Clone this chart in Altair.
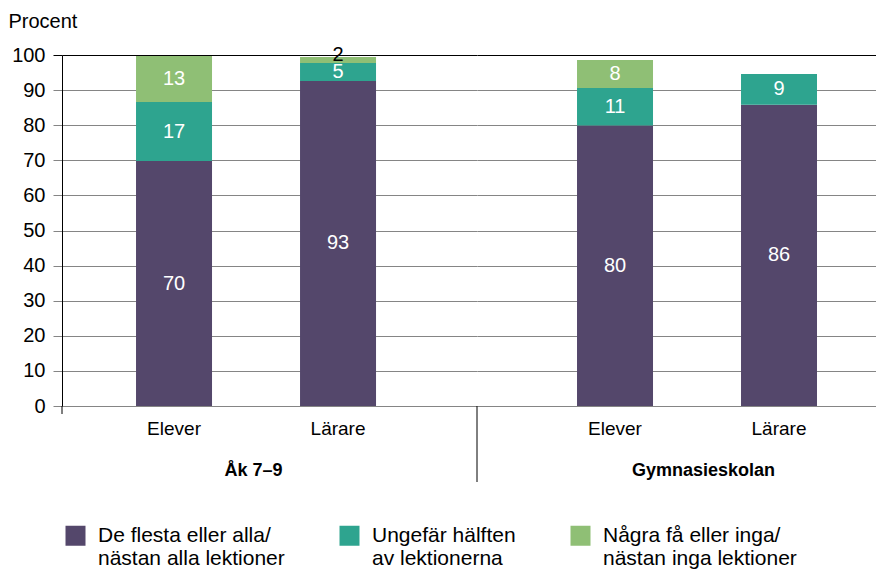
import altair as alt
import pandas as pd

# ---- data ----
groups = ["Åk 7–9", "Åk 7–9", "Gymnasieskolan", "Gymnasieskolan"]
roles = ["Elever", "Lärare", "Elever", "Lärare"]
categories = [
    "De flesta eller alla/\nnästan alla lektioner",
    "Ungefär hälften\nav lektionerna",
    "Några få eller inga/\nnästan inga lektioner",
]
most = [69.8, 92.6, 79.9, 85.8]
half = [16.8, 5.1, 10.7, 8.8]
few = [13.1, 1.7, 8.0, None]
colors = ["#54476b", "#2ea48f", "#8fbf75"]
y_ticks = list(range(0, 101, 10))
role_order = ["Elever", "Lärare"]

rows = []
for g, r, a, b, c in zip(groups, roles, most, half, few):
    for i, (cat, v) in enumerate(zip(categories, [a, b, c])):
        if v is None:
            continue
        rows.append({"grupp": g, "roll": r, "kategori": cat, "ordning": i, "varde": v})
df = pd.DataFrame(rows)

H = 351
grid_cond = {"condition": {"test": "datum.value === 100", "value": "#000000"}, "value": "#858585"}

legend = alt.Legend(
    title=None, orient="none", legendX=3, legendY=470, direction="horizontal",
    columns=3, columnPadding=54, symbolType="square", symbolSize=400,
    symbolStrokeWidth=0, labelFontSize=21, labelColor="black", labelOffset=12,
    labelExpr="split(datum.label, '\\n')", labelLimit=400, padding=0,
)


def panel(group, width, pad_outer, align, show_y, title_x):
    base = (
        alt.Chart(df)
        .transform_filter(alt.datum.grupp == group)
        .transform_stack(
            stack="varde", groupby=["roll"], as_=["y0", "y1"],
            sort=[alt.SortField("ordning", "ascending")],
        )
        .transform_calculate(mid="(datum.y0 + datum.y1) / 2",
                             txt="format(datum.varde, '.0f')")
    )
    xaxis = alt.Axis(
        title=group, labelAngle=0, labelFontSize=19, labelColor="black",
        labelPadding=13, ticks=False, domain=False, titleFontSize=18,
        titleFontWeight="bold", titleColor="black", titleX=title_x, titleY=64,
        titleBaseline="middle", titleAlign="center",
    )
    xscale = alt.Scale(paddingInner=0.5366, paddingOuter=pad_outer, align=align)
    if show_y:
        yaxis = alt.Axis(
            values=y_ticks, title="Procent", titleAngle=0, titleAlign="left",
            titleBaseline="top", titleX=-54, titleY=-44, titleFontSize=20,
            titleFontWeight="normal", titleColor="black", labelFontSize=20,
            labelColor="black", labelPadding=8, tickSize=9, tickColor=grid_cond,
            gridColor=grid_cond, domainColor="black", grid=True, labelOverlap=False,
        )
    else:
        yaxis = alt.Axis(values=y_ticks, labels=False, ticks=False, domain=False,
                         title=None, grid=True, gridColor=grid_cond)
    yscale = alt.Scale(domain=[0, 100], nice=False)

    def xe():
        return alt.X("roll:N", sort=role_order, scale=xscale, axis=xaxis)

    bars = base.mark_bar().encode(
        x=xe(),
        y=alt.Y("y0:Q", scale=yscale, axis=yaxis),
        y2="y1:Q",
        color=alt.Color("kategori:N", scale=alt.Scale(domain=categories, range=colors),
                        legend=legend),
    )
    txt_in = base.transform_filter("datum.varde >= 3").mark_text(
        color="white", fontSize=20, baseline="middle"
    ).encode(x=xe(), y=alt.Y("mid:Q", scale=yscale, axis=yaxis), text="txt:N")
    txt_out = base.transform_filter("datum.varde < 3").mark_text(
        color="black", fontSize=20, baseline="middle", dy=-5
    ).encode(x=xe(), y=alt.Y("mid:Q", scale=yscale, axis=yaxis), text="txt:N")

    one = pd.DataFrame({"a": [0]})
    if show_y:
        rule = alt.Chart(one).mark_rule(color="black", strokeWidth=1).encode(
            x=alt.value(0), y=alt.value(H), y2=alt.value(H + 8))
    else:
        rule = alt.Chart(one).mark_rule(color="black", strokeWidth=1).encode(
            x=alt.value(0), y=alt.value(H), y2=alt.value(H + 76))
    return alt.layer(bars, txt_in, txt_out, rule).properties(width=width, height=H)


left = panel("Åk 7–9", 415, 0.5335, 0.423, True, 191)
right = panel("Gymnasieskolan", 399, 0.4848, 0.629, False, 226)

chart = (
    alt.hconcat(left, right, spacing=0, bounds="flush")
    .properties(padding={"top": 3, "left": 0, "right": 0, "bottom": 0})
    .configure(font="Liberation Sans")
    .configure_view(stroke=None)
)

chart.save("out.html", embed_options={"renderer": "svg", "actions": False})
